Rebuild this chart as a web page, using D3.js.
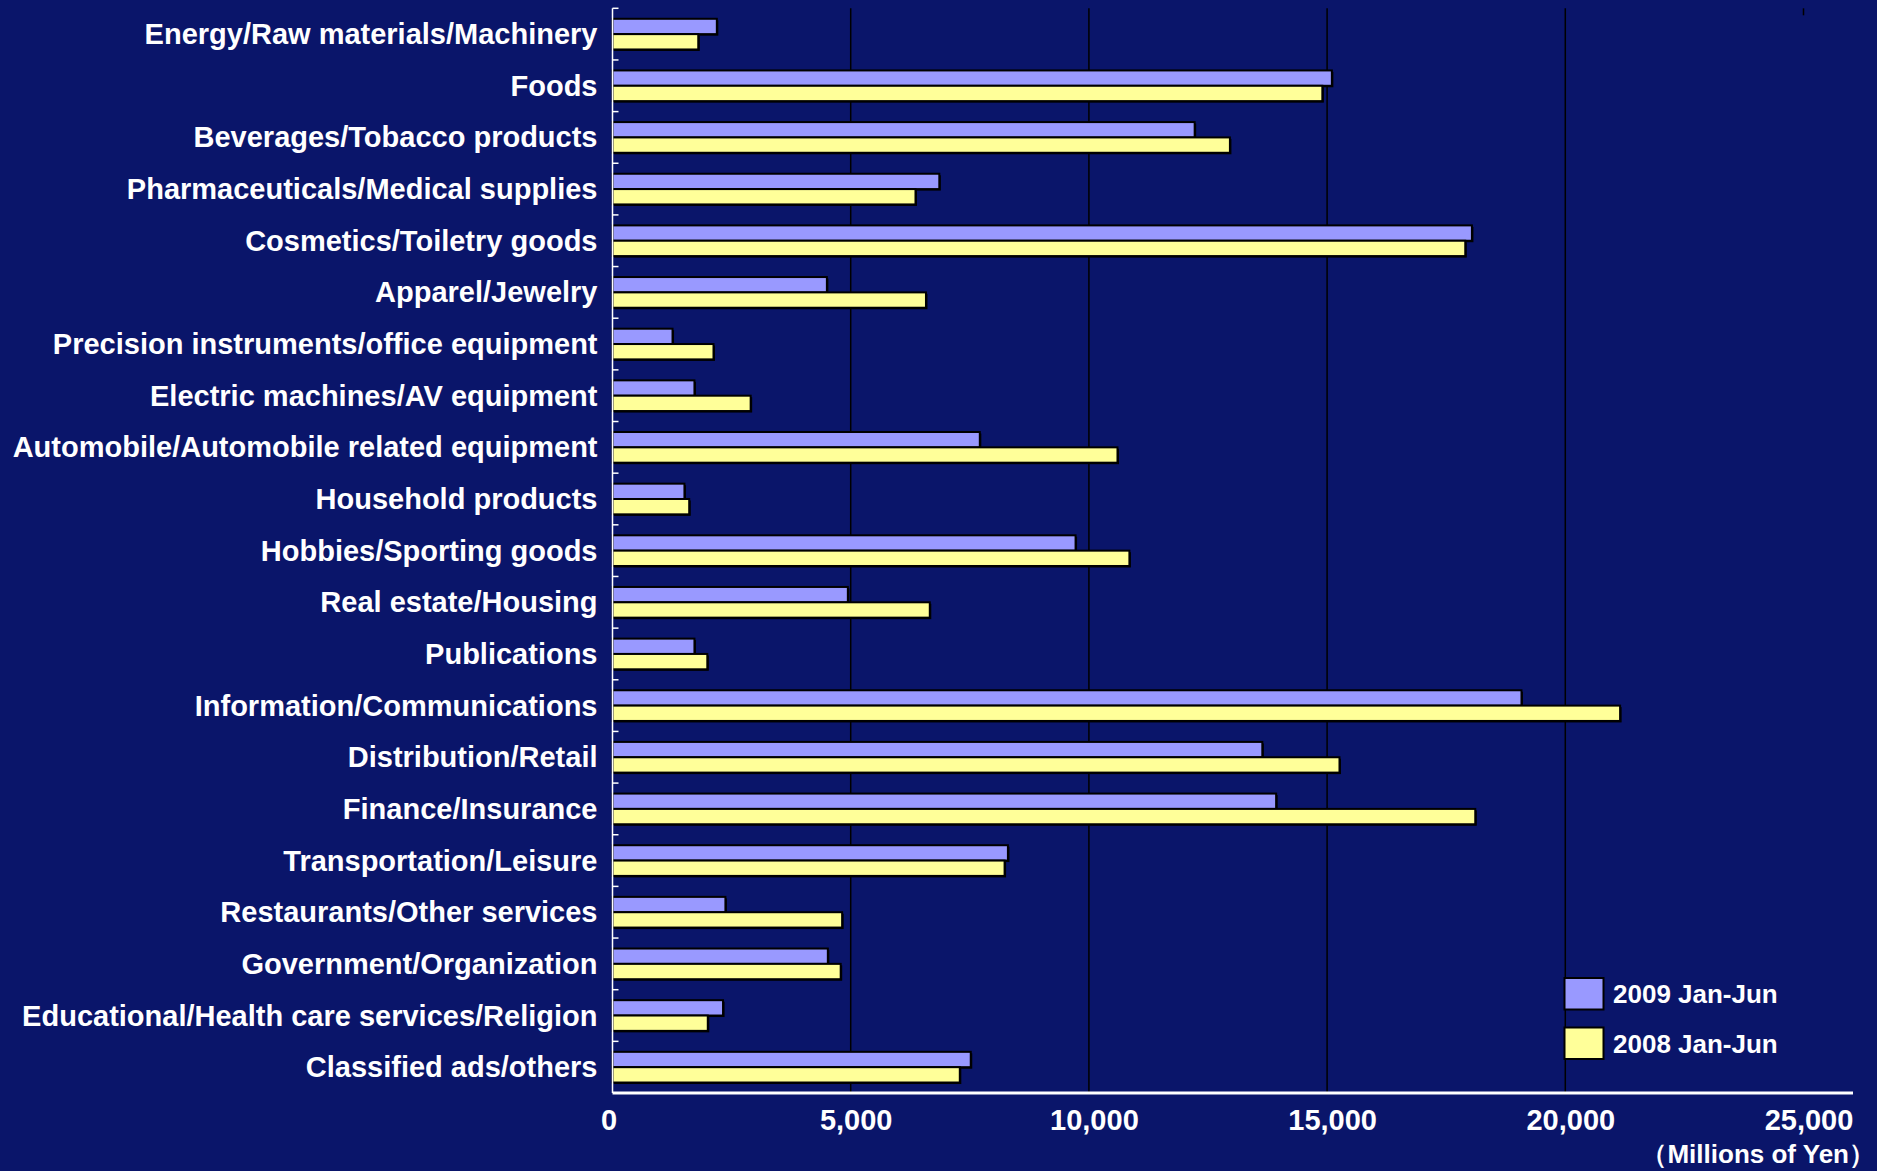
<!DOCTYPE html>
<html>
<head>
<meta charset="utf-8">
<script src="https://cdn.jsdelivr.net/npm/d3@7"></script>
<style>
  html, body { margin: 0; padding: 0; background: #0a156a; }
  svg { display: block; }
  text { font-family: "Liberation Sans", Arial, sans-serif; font-weight: bold; fill: #ffffff; }
</style>
</head>
<body>
<svg id="chart" width="1877" height="1171"></svg>
<script>
const categories = [
  "Energy/Raw materials/Machinery",
  "Foods",
  "Beverages/Tobacco products",
  "Pharmaceuticals/Medical supplies",
  "Cosmetics/Toiletry goods",
  "Apparel/Jewelry",
  "Precision instruments/office equipment",
  "Electric machines/AV equipment",
  "Automobile/Automobile related equipment",
  "Household products",
  "Hobbies/Sporting goods",
  "Real estate/Housing",
  "Publications",
  "Information/Communications",
  "Distribution/Retail",
  "Finance/Insurance",
  "Transportation/Leisure",
  "Restaurants/Other services",
  "Government/Organization",
  "Educational/Health care services/Religion",
  "Classified ads/others"
];
const series2009 = [2190, 15100, 12220, 6860, 18040, 4500, 1260, 1720, 7710, 1510, 9720, 4940, 1720, 19080, 13640, 13930, 8300, 2370, 4520, 2320, 7520];
const series2008 = [1800, 14900, 12960, 6360, 17900, 6580, 2120, 2900, 10600, 1610, 10850, 6660, 1990, 21150, 15260, 18110, 8230, 4820, 4790, 2000, 7290];
const seriesNames = ["2009 Jan-Jun", "2008 Jan-Jun"];
const seriesColors = ["#9999ff", "#ffff99"];
const tickValues = [0, 5000, 10000, 15000, 20000, 25000];
const unitLabel = "（Millions of Yen）";

(function () {
const svg = d3.select("#chart");
const W = 1877, H = 1171;
const pLeft = 612.5, pRight = 1803.5, pTop = 8.3, pBottom = 1093, axisEnd = 1853;

const x = d3.scaleLinear().domain([0, 25000]).range([pLeft, pRight]);
const y = d3.scaleBand().domain(categories).range([pTop, pBottom]).paddingInner(0.406).paddingOuter(0.203);
const ySub = d3.scaleBand().domain(seriesNames).range([0, y.bandwidth()]);

// gridlines
svg.append("g").selectAll("line")
  .data(tickValues.filter(v => v > 0 && v < 25000))
  .join("line")
  .attr("x1", d => x(d)).attr("x2", d => x(d))
  .attr("y1", pTop).attr("y2", pBottom)
  .attr("stroke", "#000").attr("stroke-width", 1.5);
// short mark at max tick
svg.append("line")
  .attr("x1", x(25000)).attr("x2", x(25000))
  .attr("y1", pTop).attr("y2", pTop + 7)
  .attr("stroke", "#000").attr("stroke-width", 1.5);

// bars
const data = categories.map((c, i) => ({ cat: c, vals: [series2009[i], series2008[i]] }));
const groups = svg.append("g").selectAll("g")
  .data(data).join("g")
  .attr("transform", d => `translate(0,${y(d.cat)})`);

groups.selectAll("rect.sh")
  .data(d => d.vals.map((v, k) => ({ v, k })))
  .join("rect").attr("class", "sh")
  .attr("x", x(0) + 1.5)
  .attr("y", d => ySub(seriesNames[d.k]) + 1.5)
  .attr("width", d => x(d.v) - x(0))
  .attr("height", ySub.bandwidth())
  .attr("fill", "#000");

groups.selectAll("rect.bar")
  .data(d => d.vals.map((v, k) => ({ v, k })))
  .join("rect").attr("class", "bar")
  .attr("x", x(0))
  .attr("y", d => ySub(seriesNames[d.k]))
  .attr("width", d => x(d.v) - x(0))
  .attr("height", ySub.bandwidth())
  .attr("fill", d => seriesColors[d.k])
  .attr("stroke", "#000").attr("stroke-width", 2);

// left axis line & ticks
const edge = y.step() * y.paddingOuter();
svg.append("line")
  .attr("x1", pLeft).attr("x2", pLeft).attr("y1", pTop).attr("y2", pBottom)
  .attr("stroke", "#ffffff").attr("stroke-width", 1.5);
svg.append("g").selectAll("line")
  .data(categories)
  .join("line")
  .attr("x1", pLeft).attr("x2", pLeft + 6)
  .attr("y1", d => y(d) - edge).attr("y2", d => y(d) - edge)
  .attr("stroke", "#ffffff").attr("stroke-width", 1.5);

// category labels
svg.append("g").selectAll("text")
  .data(categories)
  .join("text")
  .attr("x", pLeft - 15)
  .attr("y", d => y(d) + y.bandwidth() / 2 + 10)
  .attr("text-anchor", "end")
  .attr("font-size", 29)
  .text(d => d);

// bottom axis
svg.append("line")
  .attr("x1", pLeft).attr("x2", axisEnd).attr("y1", pBottom).attr("y2", pBottom)
  .attr("stroke", "#ffffff").attr("stroke-width", 3);

const xAxis = d3.axisBottom(x).tickValues(tickValues).tickFormat(d3.format(",")).tickSize(0);
const gx = svg.append("g").attr("transform", `translate(0,${pBottom})`).call(xAxis);
gx.select(".domain").remove();
gx.selectAll("text")
  .attr("font-size", 29)
  .attr("font-family", "Liberation Sans, Arial, sans-serif")
  .attr("font-weight", "bold")
  .attr("fill", "#fff")
  .attr("y", 37).attr("dy", 0)
  .attr("dx", d => d === 0 ? -4 : 5);

svg.append("text")
  .attr("x", 1875).attr("y", 1163)
  .attr("text-anchor", "end")
  .attr("font-size", 26)
  .text(unitLabel);

// legend
const lg = svg.append("g");
seriesNames.forEach((n, i) => {
  const ly = 978 + i * 49.5;
  lg.append("rect").attr("x", 1564.5).attr("y", ly).attr("width", 39).attr("height", 31.5)
    .attr("fill", seriesColors[i]).attr("stroke", "#000").attr("stroke-width", 2);
  lg.append("text").attr("x", 1613).attr("y", ly + 25).attr("font-size", 26).text(n);
});
})();
</script>
</body>
</html>
